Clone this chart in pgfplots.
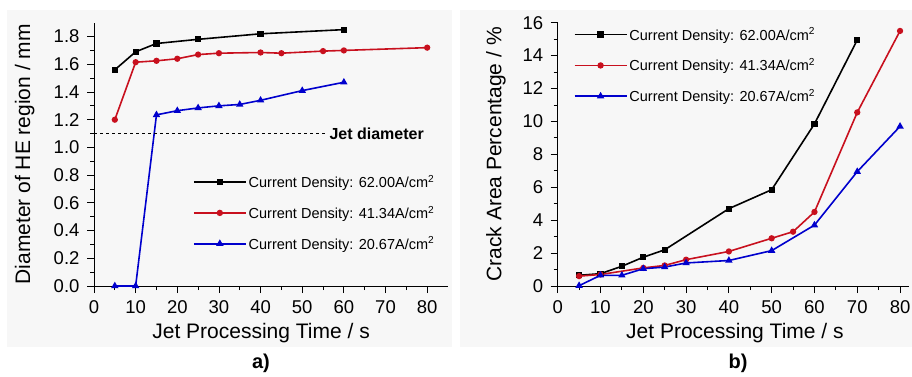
\documentclass[border=0pt]{standalone}
\usepackage{fontspec}
\setmainfont{Liberation Sans}
\usepackage{pgfplots}
\pgfplotsset{compat=1.18}
\definecolor{cred}{RGB}{200,16,30}
\definecolor{cblue}{RGB}{0,0,205}
\pgfplotsset{
 myax/.style={
  scale only axis, axis lines*=left, axis line style={line width=1pt,-},
  tick align=outside, major tick length=7pt, minor tick length=4pt,
  every tick/.style={black,line width=0.8pt},
  tick label style={font=\fontsize{18.5}{18.5}\selectfont},
  xticklabel style={yshift=-4pt},
  yticklabel style={xshift=-4pt},
  label style={font=\fontsize{21}{21}\selectfont},
  /pgf/number format/assume math mode=true,
  xmin=0, xtick={0,10,...,80}, minor x tick num=1,
  legend style={draw=none, fill=none, font=\fontsize{14.5}{15}\selectfont, row sep=13pt, anchor=north west, cells={anchor=west}},
  legend image code/.code={\draw[line width=1.7pt, mark repeat=2,mark phase=2] plot coordinates {(0pt,0pt) (26pt,0pt) (52pt,0pt)};},
  every axis plot/.append style={line width=1.6pt},
 }
}
\begin{document}
\begin{tikzpicture}
\path[use as bounding box] (0,0) rectangle (912pt,376pt);
\fill[black!3] (7pt,29pt) rectangle (452pt,366pt);
\fill[black!3] (460pt,29pt) rectangle (912pt,366pt);
% ---------- a ----------
\begin{axis}[myax, at={(94pt,90pt)}, anchor=origin,
  width=354pt, height=263.3pt, xmax=85, ymin=0, ymax=1.9,
  ytick={0,0.2,...,1.8}, minor y tick num=1,
  yticklabel style={/pgf/number format/.cd, fixed, fixed zerofill, precision=1},
  xlabel={Jet Processing Time / s}, ylabel={Diameter of HE region / mm},
  xlabel style={at={(axis description cs:0.472,-0.178)}, anchor=center},
  ylabel style={at={(axis description cs:-0.196,0.5)}, anchor=center},
  legend style={at={(axis cs:23,0.83)}},
  clip=false]
\addplot[black, mark=square*, mark size=2.3pt] coordinates {(5,1.56) (10,1.69) (15,1.75) (25,1.78) (40,1.82) (60,1.85)};
\addlegendentry{Current Density: 62.00A/cm\textsuperscript{2}}
\addplot[cred, mark=*, mark size=2.3pt] coordinates {(5,1.20) (10,1.615) (15,1.625) (20,1.64) (25,1.67) (30,1.68) (40,1.685) (45,1.68) (55,1.695) (60,1.70) (80,1.72)};
\addlegendentry{Current Density: 41.34A/cm\textsuperscript{2}}
\addplot[cblue, mark=triangle*, mark size=2.7pt] coordinates {(5,0) (10,0) (15,1.235) (20,1.265) (25,1.285) (30,1.30) (35,1.31) (40,1.34) (50,1.41) (60,1.47)};
\addlegendentry{Current Density: 20.67A/cm\textsuperscript{2}}
\addplot[black, dashed, line width=1pt, forget plot] coordinates {(0,1.1) (55.5,1.1)};
\node[anchor=west, font=\fontsize{16}{16}\selectfont\bfseries, inner sep=0pt] at (axis cs:56.5,1.1) {Jet diameter};
\end{axis}
% ---------- b ----------
\begin{axis}[myax, at={(557.7pt,90pt)}, anchor=origin,
  width=350.9pt, height=263.3pt, xmax=82, ymin=0, ymax=16,
  ytick={0,2,...,16}, minor y tick num=1,
  xlabel={Jet Processing Time / s}, ylabel={Crack Area Percentage / \%},
  xlabel style={at={(axis description cs:0.505,-0.178)}, anchor=center},
  ylabel style={at={(axis description cs:-0.176,0.5)}, anchor=center},
  legend style={at={(axis cs:3,15.95)}},
  clip=false]
\addplot[black, mark=square*, mark size=2.3pt] coordinates {(5,0.65) (10,0.75) (15,1.2) (20,1.75) (25,2.2) (40,4.7) (50,5.85) (60,9.85) (70,14.95)};
\addlegendentry{Current Density: 62.00A/cm\textsuperscript{2}}
\addplot[cred, mark=*, mark size=2.3pt] coordinates {(5,0.6) (10,0.7) (20,1.1) (25,1.25) (30,1.6) (40,2.1) (50,2.9) (55,3.3) (60,4.5) (70,10.55) (80,15.5)};
\addlegendentry{Current Density: 41.34A/cm\textsuperscript{2}}
\addplot[cblue, mark=triangle*, mark size=2.7pt] coordinates {(5,0.02) (10,0.65) (15,0.65) (20,1.05) (25,1.15) (30,1.4) (40,1.55) (50,2.15) (60,3.7) (70,6.95) (80,9.7)};
\addlegendentry{Current Density: 20.67A/cm\textsuperscript{2}}
\end{axis}
\node[font=\fontsize{20}{20}\selectfont\bfseries] at (261pt,13pt) {a)};
\node[font=\fontsize{20}{20}\selectfont\bfseries] at (738pt,13pt) {b)};
\end{tikzpicture}
\end{document}
